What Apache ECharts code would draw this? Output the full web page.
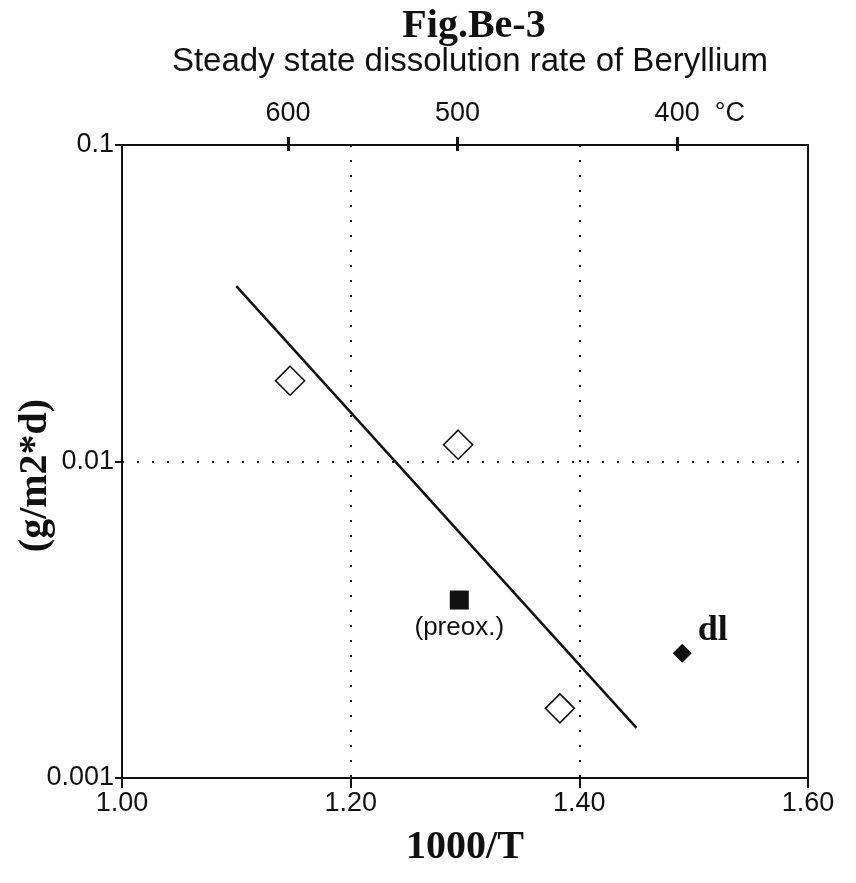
<!DOCTYPE html>
<html>
<head>
<meta charset="utf-8">
<script src="https://cdn.jsdelivr.net/npm/echarts@6/dist/echarts.min.js"></script>
<style>html,body{margin:0;padding:0;background:#fff}#c{width:856px;height:883px}</style>
</head>
<body>
<div id="c"></div>
<script>
// ---- data ----
const titleText = 'Fig.Be-3';
const subtitleText = 'Steady state dissolution rate of Beryllium';
const xName = '1000/T';
const yName = '(g/m2*d)';
const xTicks = [1.00, 1.20, 1.40, 1.60];
const yTicks = [0.001, 0.01, 0.1];
const tempC = [600, 500, 400];          // top axis, °C
const openX = [1.147, 1.294, 1.383];    // open diamonds
const openY = [0.0180, 0.0113, 0.00166];
const preoxX = [1.295];                 // filled square (preox.)
const preoxY = [0.00365];
const dlX = [1.490];                    // detection limit
const dlY = [0.00248];
const fitX = [1.10, 1.45];              // fitted line
const fitY = [0.0358, 0.00144];

const SANS = "'Liberation Sans', Arial, sans-serif";
const SERIF = "'Liberation Serif', 'Times New Roman', serif";
const topVals = tempC.map(t => 1000 / (t + 273.15));
const zip = (a, b) => a.map((v, i) => [v, b[i]]);

const chart = echarts.init(document.getElementById('c'));
chart.setOption({
  animation: false,
  backgroundColor: '#fff',
  title: [
    { text: titleText, left: 469, top: 2, textAlign: 'center',
      textStyle: { fontFamily: SERIF, fontSize: 40, fontWeight: 'bold', color: '#111' } },
    { text: subtitleText, left: 465, top: 40, textAlign: 'center',
      textStyle: { fontFamily: SANS, fontSize: 33, fontWeight: 'normal', color: '#111' } }
  ],
  grid: { left: 122, right: 48, top: 145, bottom: 105, containLabel: false, outerBoundsMode: 'none' },
  xAxis: [
    { type: 'value', min: xTicks[0], max: xTicks[xTicks.length - 1], interval: 0.2,
      name: xName, nameLocation: 'middle', nameGap: 50, nameMoveOverlap: false,
      nameTextStyle: { fontFamily: SERIF, fontSize: 40, fontWeight: 'bold', color: '#111' },
      axisLine: { show: true, lineStyle: { color: '#111', width: 2 } },
      axisTick: { show: true, length: 10, lineStyle: { color: '#111', width: 2 } },
      axisLabel: { fontFamily: SANS, fontSize: 27, color: '#111', margin: 12,
        formatter: v => v.toFixed(2) },
      splitLine: { show: true, lineStyle: { color: '#111', width: 2, type: [2, 13] } } },
    { type: 'value', position: 'top', min: xTicks[0], max: xTicks[xTicks.length - 1],
      axisLine: { show: true, onZero: false, lineStyle: { color: '#111', width: 2 } },
      axisTick: { show: true, length: 8, customValues: topVals, lineStyle: { color: '#111', width: 3 } },
      axisLabel: { show: true, customValues: topVals, fontFamily: SANS, fontSize: 27, color: '#111', margin: 18,
        formatter: v => {
          const t = Math.round(1000 / v - 273.15);
          return t === tempC[tempC.length - 1] ? '{h|°C}  ' + t + '  {u|°C}' : String(t);
        },
        rich: { h: { fontFamily: SANS, fontSize: 27, color: 'rgba(0,0,0,0)' },
                u: { fontFamily: SANS, fontSize: 27, color: '#111' } } },
      splitLine: { show: false } },
    { type: 'value', position: 'top', min: xTicks[0], max: xTicks[xTicks.length - 1],
      axisLine: { show: false },
      axisTick: { show: true, inside: true, length: 6, customValues: topVals, lineStyle: { color: '#111', width: 3 } },
      axisLabel: { show: false }, splitLine: { show: false } }
  ],
  yAxis: [
    { type: 'log', logBase: 10, min: yTicks[0], max: yTicks[yTicks.length - 1],
      name: yName, nameLocation: 'middle', nameGap: 66, nameRotate: 90, nameMoveOverlap: false,
      nameTextStyle: { fontFamily: SERIF, fontSize: 40, fontWeight: 'bold', color: '#111', padding: [0, 28, 0, 0] },
      axisLine: { show: true, lineStyle: { color: '#111', width: 2 } },
      axisTick: { show: true, length: 7, lineStyle: { color: '#111', width: 2 } },
      axisLabel: { fontFamily: SANS, fontSize: 27, color: '#111', margin: 8,
        formatter: v => String(Number(Number(v).toPrecision(1))) },
      splitLine: { show: true, lineStyle: { color: '#111', width: 2, type: [2, 13] } } },
    { type: 'log', logBase: 10, position: 'right', min: yTicks[0], max: yTicks[yTicks.length - 1],
      axisLine: { show: true, onZero: false, lineStyle: { color: '#111', width: 2 } },
      axisTick: { show: false }, axisLabel: { show: false }, splitLine: { show: false } }
  ],
  series: [
    { type: 'line', data: zip(fitX, fitY), showSymbol: false, symbol: 'none',
      lineStyle: { color: '#111', width: 2.5 }, z: 3 },
    { type: 'scatter', data: zip(openX, openY), symbol: 'diamond', symbolSize: 29,
      itemStyle: { color: '#fff', borderColor: '#111', borderWidth: 1.6, opacity: 1 }, z: 4 },
    { type: 'scatter', data: zip(preoxX, preoxY), symbol: 'rect', symbolSize: 19,
      itemStyle: { color: '#111', opacity: 1 }, z: 4,
      label: { show: true, position: 'bottom', distance: 5, formatter: '(preox.)',
        fontFamily: SANS, fontSize: 26, color: '#111' } },
    { type: 'scatter', data: zip(dlX, dlY), symbol: 'diamond', symbolSize: 19,
      itemStyle: { color: '#111', opacity: 1 }, z: 4,
      label: { show: true, position: 'right', distance: 6, offset: [0, -22], formatter: 'dl',
        fontFamily: SERIF, fontSize: 36, fontWeight: 'bold', color: '#111' } }
  ]
});
</script>
</body>
</html>
